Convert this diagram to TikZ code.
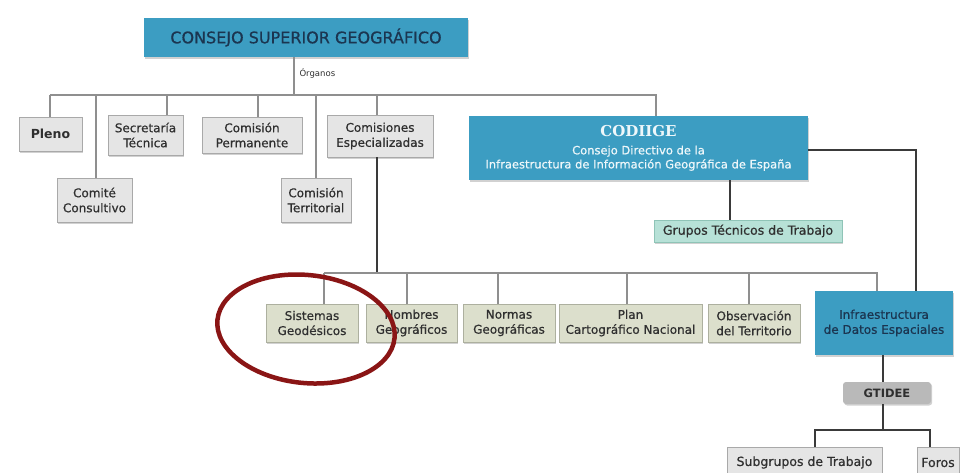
\documentclass[tikz,border=0pt]{standalone}
\usepackage{fontspec}
\setmainfont{DejaVu Sans}
\newfontfamily\semib{DejaVu Sans}[FakeBold=0.6]
\newfontfamily\serifbold{DejaVu Serif}
\usetikzlibrary{shadows}
\definecolor{tealbox}{HTML}{3C9DC2}
\definecolor{navy}{HTML}{1B3550}
\definecolor{gfill}{HTML}{E5E5E5}
\definecolor{gborder}{HTML}{A9A9A9}
\definecolor{lfill}{HTML}{DCDFCC}
\definecolor{lborder}{HTML}{ADB09F}
\definecolor{mint}{HTML}{B7E1D7}
\definecolor{mintborder}{HTML}{8FC4B7}
\definecolor{gtfill}{HTML}{B9B9B9}
\definecolor{dred}{HTML}{8A1515}
\definecolor{txt}{HTML}{2F2F2F}
\definecolor{lightline}{HTML}{8F8F8F}
\definecolor{darkline}{HTML}{3A3A3A}
\definecolor{lighttext}{HTML}{EEF7FA}
\begin{document}
\begin{tikzpicture}[x=1pt,y=-1pt,
  shadowed/.style={drop shadow={shadow xshift=1.2pt,shadow yshift=-1.5pt,fill=black,opacity=0.18}},
  gbox/.style={shadowed,draw=gborder,fill=gfill,line width=0.8pt,align=center,text=txt,
    font=\semib\fontsize{12}{15}\selectfont,inner sep=0pt},
  lbox/.style={shadowed,draw=lborder,fill=lfill,line width=0.8pt,align=center,text=txt,
    font=\semib\fontsize{12}{15}\selectfont,inner sep=0pt,minimum height=38},
  tbox/.style={shadowed,fill=tealbox,align=center,inner sep=0pt},
  gline/.style={draw=lightline,line width=1.3pt},
  dthin/.style={draw=darkline,line width=1.2pt},
  dline/.style={draw=darkline,line width=2pt}]
\clip (0,0) rectangle (970,472);
\fill[white] (0,0) rectangle (970,472);

% top
\node[tbox,minimum width=324,minimum height=39,text=navy,font=\semib\fontsize{16}{18}\selectfont] (csg) at (306,37.5) {CONSEJO SUPERIOR GEOGRÁFICO};
\node[font=\fontsize{8.5}{10}\selectfont,text=txt,anchor=west] (org) at (296,73) {Órganos};

% first level
\node[gbox,minimum width=63,minimum height=34,font=\fontsize{12.5}{15}\selectfont\bfseries] (pleno) at (50.5,134) {Pleno};
\node[gbox,minimum width=75,minimum height=44] (comite) at (94.5,200) {Comité\\Consultivo};
\node[gbox,minimum width=75,minimum height=40] (secre) at (145.5,135) {Secretaría\\Técnica};
\node[gbox,minimum width=100,minimum height=36] (cperm) at (252,135) {Comisión\\Permanente};
\node[gbox,minimum width=70,minimum height=44] (cterr) at (316,200) {Comisión\\Territorial};
\node[gbox,minimum width=106,minimum height=42] (comesp) at (380,136) {Comisiones\\Especializadas};

\node[tbox,minimum width=339,minimum height=64,text=lighttext,font=\semib\fontsize{11.5}{14}\selectfont] (codiige) at (638.5,148)
  {\serifbold\bfseries\fontsize{15}{18}\selectfont CODIIGE\\[4pt]
   Consejo Directivo de la\\Infraestructura de Información Geográfica de España};
\node[shadowed,draw=mintborder,fill=mint,line width=0.8pt,minimum width=188,minimum height=22,inner sep=0pt,
  text=txt,font=\semib\fontsize{12.5}{14}\selectfont] (grupos) at (748,231) {Grupos Técnicos de Trabajo};

% second level
\node[lbox,minimum width=92] (sist) at (312,323) {Sistemas\\Geodésicos};
\node[lbox,minimum width=91] (nomb) at (411.5,323) {Nombres\\Geográficos};
\node[lbox,minimum width=92] (norm) at (509,323) {Normas\\Geográficas};
\node[lbox,minimum width=143] (plan) at (630.5,323) {Plan\\Cartográfico Nacional};
\node[lbox,minimum width=92] (obs) at (754,323) {Observación\\del Territorio};
\node[tbox,minimum width=138,minimum height=64,text=navy,font=\semib\fontsize{12}{15}\selectfont] (ide) at (884,323) {Infraestructura\\de Datos Espaciales};

\node[shadowed,fill=gtfill,rounded corners=3pt,minimum width=88,minimum height=22,inner sep=0pt,
  text=txt,font=\fontsize{11.5}{13}\selectfont\bfseries] (gtidee) at (887,393) {GTIDEE};
\node[gbox,minimum width=155,minimum height=31,font=\semib\fontsize{12.5}{14}\selectfont] (subg) at (804.5,462.5) {Subgrupos de Trabajo};
\node[gbox,minimum width=42,minimum height=31,font=\semib\fontsize{12.5}{14}\selectfont] (foros) at (938,462.5) {Foros};

% upper bus
\coordinate (o) at (294,95);
\coordinate (busL) at (50,95);
\coordinate (busR) at (656,95);
\draw[gline] (o) -- (o |- csg.south);
\draw[gline] (busL) -- (busR) -- (busR |- codiige.north);
\draw[gline] (busL) -- (busL |- pleno.north);
\coordinate (b2) at (96,95);  \draw[gline] (b2) -- (b2 |- comite.north);
\coordinate (b3) at (167,95); \draw[gline] (b3) -- (b3 |- secre.north);
\coordinate (b4) at (258,95); \draw[gline] (b4) -- (b4 |- cperm.north);
\coordinate (b5) at (316,95); \draw[gline] (b5) -- (b5 |- cterr.north);
\coordinate (b6) at (377,95); \draw[gline] (b6) -- (b6 |- comesp.north);

% lower bus
\coordinate (lo) at (377,273);
\coordinate (lbL) at (324,273);
\coordinate (lbR) at (877,273);
\draw[dthin] (lo |- comesp.south) -- (lo);
\draw[gline] (lbL) -- (lbR) -- (lbR |- ide.north);
\draw[gline] (lbL) -- (lbL |- sist.north);
\coordinate (l2) at (407,273); \draw[gline] (l2) -- (l2 |- nomb.north);
\coordinate (l3) at (498,273); \draw[gline] (l3) -- (l3 |- norm.north);
\coordinate (l4) at (627,273); \draw[gline] (l4) -- (l4 |- plan.north);
\coordinate (l5) at (749,273); \draw[gline] (l5) -- (l5 |- obs.north);

% CODIIGE links
\coordinate (rc) at (916,150);
\draw[dline] (codiige.east |- rc) -- (rc) -- (rc |- ide.north);
\coordinate (gc) at (730,200);
\draw[dline] (gc |- codiige.south) -- (gc |- grupos.north);

% IDE / GTIDEE
\coordinate (ic) at (883,430);
\draw[dline] (ic |- ide.south) -- (ic |- gtidee.north);
\draw[dline] (ic |- gtidee.south) -- (ic);
\coordinate (sL) at (815,430);
\coordinate (sR) at (930,430);
\draw[dline] (sL |- subg.north) -- (sL) -- (sR) -- (sR |- foros.north);

% highlight ellipse
\draw[dred,line width=4.5pt] (306,329) ellipse [x radius=89, y radius=54, rotate=-6];
\end{tikzpicture}
\end{document}
